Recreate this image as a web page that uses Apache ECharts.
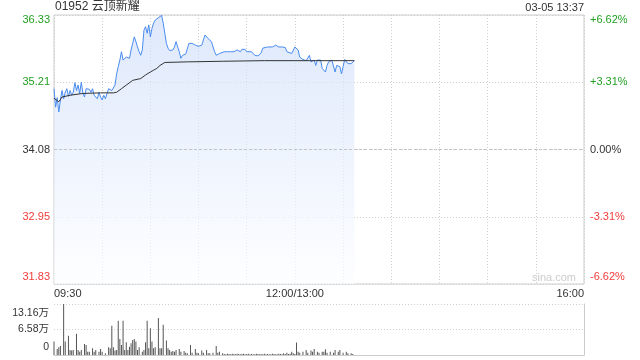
<!DOCTYPE html>
<html><head><meta charset="utf-8">
<script src="https://cdn.jsdelivr.net/npm/echarts@6/dist/echarts.min.js"></script>
<style>html,body{margin:0;padding:0;background:#fff}#c{width:640px;height:360px}</style>
</head><body><div id="c"></div>
<script>
const titleText = '01952 云顶新耀';
const stampText = '03-05 13:37';
const watermark = 'sina.com';
const preClose = 34.08;
const span = 2.256;       // 6.62% of pre-close
const step = 1.128;
const priceTicks = ['31.83','32.95','34.08','35.21','36.33'];
const pctTicks = ['-6.62%','-3.31%','0.00%','+3.31%','+6.62%'];
const volTicks = ['0','6.58万','13.16万'];
const volMax = 131600;
const timeTicks = {0:'09:30',150:'12:00/13:00',330:'16:00'};

const priceMin = [0,1,2,3,4,5,6,7,8,9,10,11,12,13,14,15,16,17,18,19,20,21,22,23,24,25,26,27,28,29,30,31,32,33,34,35,36,
38,39,40,41,42,43,44,45,46,47,48,49,50,51,52,53,54,55,56,57,58,59,60,61,62,63,64,
67,68,69,70,71,72,74,75,76,77,78,79,80,81,82,83,84,85,86,87,88,
90,91,92,93,94,95,96,97,98,99,100,101,102,103,104,106,108,110,112,
114,115,116,117,118,119,120,121,123,124,125,127,128,129,130,131,133,136,137,138,140,142,144,145,146,
148,149,150,151,152,153,154,155,156,157,158,159,160,161,162,163,164,
166,167,168,169,170,171,172,173,174,175,176,177,178,179,180,181,182,183,184,185,187];
const price = [35.10,34.79,34.95,34.71,34.91,35.07,34.93,35.04,35.10,34.97,35.07,34.99,35.04,35.20,35.07,35.16,35.02,35.21,35.02,34.96,
35.10,35.07,35.09,35.04,35.10,34.99,34.96,34.93,35.04,34.96,34.91,34.99,34.93,35.02,35.10,35.13,35.07,
35.16,35.35,35.47,35.58,35.72,35.58,35.61,35.63,35.66,35.61,35.75,35.86,35.97,35.89,35.80,35.72,35.66,35.75,36.08,36.14,
36.03,36.17,35.97,36.11,36.20,36.25,36.25,
36.33,36.20,36.03,35.86,35.78,35.74,
35.75,35.80,35.89,35.80,35.72,35.61,35.66,35.69,35.68,35.69,35.86,35.83,35.86,35.85,35.83,
35.81,35.81,35.83,35.86,36.00,36.00,35.94,35.92,35.89,35.86,35.72,35.66,35.66,35.69,35.72,
35.72,35.72,35.72,35.72,
35.75,35.78,35.72,35.76,35.78,35.76,35.72,35.72,
35.72,35.69,35.66,
35.65,35.63,35.70,35.78,35.80,
35.80,35.80,35.81,35.83,35.80,35.80,35.79,35.72,35.70,
35.69,35.72,35.80,35.81,35.75,35.63,35.61,35.59,35.58,35.57,35.55,35.66,35.55,35.52,35.58,35.49,35.58,
35.58,35.44,35.41,35.38,35.49,35.55,35.58,35.58,35.55,35.38,35.49,35.52,35.47,35.35,35.47,35.59,35.61,35.52,35.51,35.52,
35.57];

const avgMin = [0,3,5,10,18,29,37,39,42,45,49,54,57,60,62,64,66,67,69,83,105,131,159,187];
const avgPrice = [34.94,34.88,34.96,34.99,35.02,35.03,35.03,35.04,35.10,35.16,35.24,35.27,35.33,35.38,35.41,35.44,35.49,35.51,35.54,35.55,35.56,35.57,35.57,35.57];

const volMin = [0,2,3,4,6,7,9,10,11,12,14,15,16,17,19,20,21,22,24,25,26,28,29,30,32,34,35,36,37,38,39,40,41,42,43,44,45,46,47,48,49,50,
51,52,53,55,56,57,58,59,60,61,62,63,65,66,67,68,70,71,72,73,74,75,76,78,79,81,82,83,85,86,88,89,90,92,93,95,96,97,99,101,102,103,105,
106,107,108,109,110,111,112,113,114,115,116,117,118,119,120,121,122,123,124,125,126,127,128,129,130,131,132,133,134,135,136,137,138,139,140,
141,142,143,144,145,146,147,148,149,150,
151,152,153,155,157,158,160,161,162,164,165,167,168,169,170,172,174,175,177,178,180,182,183,185,186];
const vol = [34600,15600,19900,23400,131600,34600,49400,13000,11300,13000,54600,13000,8700,13000,28600,26000,8700,8700,17300,8700,13000,8700,15600,8700,4300,19900,17300,75300,19900,11300,13000,88300,41600,26000,88300,13000,32900,13000,21600,30300,39000,41600,
34600,13000,19900,8700,13000,32900,88300,17300,69300,34600,17300,19900,95300,17300,17300,77900,37200,17300,13000,8700,10400,8700,13000,15600,8700,10400,6100,4300,26000,6100,15600,6100,4300,11300,6100,13000,4300,4300,6100,23400,6100,8700,4300,
2600,1700,3500,2600,1700,3000,2600,1700,3500,2600,1700,2600,3000,1700,2600,3500,1700,2600,2200,1700,3000,2600,1700,2600,2200,3500,1700,2600,2200,1700,3000,2600,1700,2200,3500,
2600,1700,4300,2600,6100,2600,3500,8700,4300,2600,
32000,8700,6100,8700,13000,6100,11300,8700,15600,8700,6100,8700,8700,14700,6100,8700,6100,13000,8700,13000,6100,8700,4300,4300,2600];

const FONT = "'Liberation Sans', Arial, 'Noto Sans CJK SC', sans-serif";
const GREEN = '#22a022', RED = '#f03c3c', DARK = '#333';
const priceColors = [RED, RED, DARK, GREEN, GREEN];

function richSet(colors, topPad, botPad, fs) {
  const r = {};
  colors.forEach((c, i) => {
    let pad = [0,0,0,0];
    if (i === colors.length - 1) pad = [topPad,0,0,0];
    if (i === 0) pad = [0,0,botPad,0];
    r['k' + i] = {color: c, fontSize: fs, fontFamily: FONT, padding: pad};
  });
  return r;
}
function idxOf(v) { return Math.round((v + span) / step); }

const chart = echarts.init(document.getElementById('c'), null, {renderer: 'canvas'});
const dotted = {color: '#cfcfcf', type: [1, 2], width: 1};

chart.setOption({
  animation: false,
  textStyle: {fontFamily: FONT},
  grid: [
    {left: 54, top: 15, width: 530, height: 269, show: true, borderColor: '#cccccc', borderWidth: 1, backgroundColor: 'transparent'},
    {left: 54, top: 304, width: 530, height: 51}
  ],
  xAxis: [
    {type: 'value', gridIndex: 0, min: 0, max: 330, interval: 30,
     axisLine: {show: false}, axisTick: {show: false},
     splitLine: {show: true, lineStyle: dotted},
     axisLabel: {show: true, margin: 4, fontSize: 11, color: DARK, fontFamily: FONT,
       showMinLabel: true, showMaxLabel: true, alignMinLabel: 'left', alignMaxLabel: 'right',
       formatter: v => timeTicks[v] || ''}},
    {type: 'value', gridIndex: 1, min: 0, max: 330, interval: 30,
     axisLine: {show: true, lineStyle: {color: '#cccccc'}}, axisTick: {show: false},
     splitLine: {show: false}, axisLabel: {show: false}}
  ],
  yAxis: [
    {type: 'value', gridIndex: 0, position: 'left', min: -span, max: span, interval: step,
     axisLine: {show: false}, axisTick: {show: false},
     splitLine: {show: true, lineStyle: dotted},
     axisLabel: {margin: 4, fontSize: 11, fontFamily: FONT,
       formatter: v => { const i = idxOf(v); return '{k' + i + '|' + priceTicks[i] + '}'; },
       rich: richSet(priceColors, 10, 14, 11)}},
    {type: 'value', gridIndex: 0, position: 'right', min: -span, max: span, interval: step,
     axisLine: {show: false}, axisTick: {show: false}, splitLine: {show: false},
     axisLabel: {margin: 6, fontSize: 11, fontFamily: FONT,
       formatter: v => { const i = idxOf(v); return '{k' + i + '|' + pctTicks[i] + '}'; },
       rich: richSet(priceColors, 10, 14, 11)}},
    {type: 'value', gridIndex: 1, position: 'left', min: 0, max: volMax, interval: volMax / 2,
     axisLine: {show: false}, axisTick: {show: false},
     splitLine: {show: true, lineStyle: dotted},
     axisLabel: {margin: 5, fontSize: 10.5, fontFamily: FONT,
       formatter: v => { const i = Math.round(v / (volMax / 2)); return '{k' + i + '|' + volTicks[i] + '}'; },
       rich: richSet([DARK, DARK, DARK], 18, 15, 10.5)}},
    {type: 'value', gridIndex: 1, position: 'right', min: 0, max: volMax,
     axisLine: {show: true, lineStyle: {color: '#cccccc'}}, axisTick: {show: false},
     splitLine: {show: false}, axisLabel: {show: false}}
  ],
  graphic: [
    {type: 'text', left: 55, top: 1, style: {text: titleText, fill: DARK, font: '12px ' + FONT}},
    {type: 'text', right: 56, top: 2, style: {text: stampText, fill: DARK, font: '11px ' + FONT}},
    {type: 'text', left: 532, top: 272, style: {text: watermark, fill: '#cccccc', font: '11px ' + FONT}}
  ],
  series: [
    {type: 'line', xAxisIndex: 0, yAxisIndex: 0, showSymbol: false, symbol: 'none',
     data: priceMin.map((m, i) => [m, price[i] - preClose]),
     lineStyle: {color: '#4a8cf0', width: 1},
     areaStyle: {origin: 'start', color: new echarts.graphic.LinearGradient(0, 0, 0, 1, [
       {offset: 0, color: '#cfdef9'}, {offset: 0.5, color: '#e6eefc'}, {offset: 1, color: '#fcfdff'}])},
     markLine: {silent: true, symbol: 'none', label: {show: false},
       lineStyle: {color: '#c4c4c4', type: [3, 2], width: 1}, data: [{yAxis: 0}]}},
    {type: 'line', xAxisIndex: 0, yAxisIndex: 0, showSymbol: false, symbol: 'none',
     data: avgMin.map((m, i) => [m, avgPrice[i] - preClose]),
     lineStyle: {color: '#333333', width: 1}},
    {type: 'bar', xAxisIndex: 1, yAxisIndex: 2, barWidth: 1,
     data: volMin.map((m, i) => [m, vol[i]]),
     itemStyle: {color: '#555555'}}
  ]
});
</script></body></html>
